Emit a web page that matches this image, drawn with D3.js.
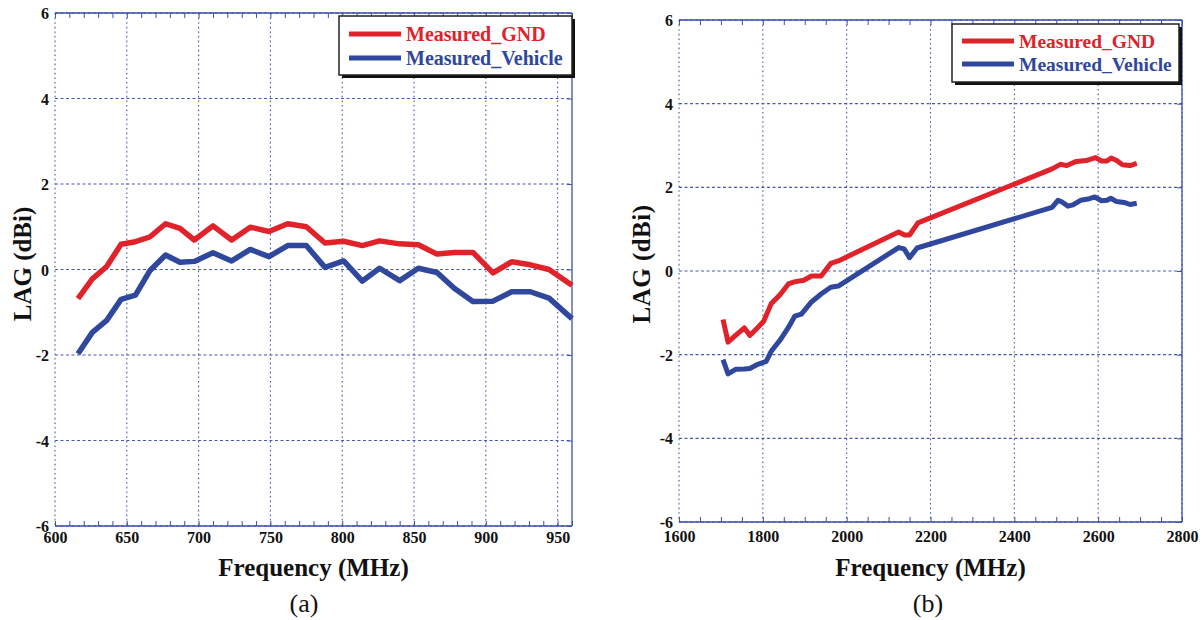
<!DOCTYPE html>
<html>
<head>
<meta charset="utf-8">
<script src="https://cdn.jsdelivr.net/npm/d3@7"></script>
<style>
  html, body { margin: 0; padding: 0; background: #fff; }
  svg text { font-family: "Liberation Serif", "Times New Roman", serif; }
</style>
</head>
<body>
<svg id="chart" width="1203" height="620"></svg>
<script>
// ---------- Data ----------
const seriesNames = ["Measured_GND", "Measured_Vehicle"];

// Panel (a)
const freqA = [616, 626, 636, 646, 656, 666, 677, 687, 697, 710, 723, 736, 749, 762, 775, 788, 801, 814, 826, 840, 853, 866, 878, 891, 905, 918, 931, 944, 960];
const gndA = [-0.68, -0.22, 0.07, 0.59, 0.65, 0.76, 1.07, 0.96, 0.69, 1.02, 0.69, 0.99, 0.89, 1.07, 1.00, 0.62, 0.66, 0.56, 0.67, 0.60, 0.58, 0.36, 0.40, 0.40, -0.08, 0.18, 0.11, 0.00, -0.37];
const vehA = [-1.97, -1.47, -1.19, -0.70, -0.60, -0.03, 0.34, 0.17, 0.19, 0.39, 0.20, 0.47, 0.30, 0.56, 0.56, 0.05, 0.20, -0.27, 0.03, -0.26, 0.03, -0.07, -0.44, -0.75, -0.74, -0.52, -0.52, -0.67, -1.15];

// Panel (b)
const freqGndB = [1705, 1717, 1735, 1756, 1769, 1788, 1802, 1820, 1841, 1861, 1875, 1898, 1916, 1939, 1962, 1980, 2124, 2138, 2150, 2170, 2490, 2510, 2525, 2548, 2571, 2594, 2608, 2621, 2631, 2644, 2658, 2676, 2692];
const gndB = [-1.16, -1.70, -1.54, -1.36, -1.54, -1.35, -1.20, -0.78, -0.57, -0.31, -0.26, -0.22, -0.12, -0.12, 0.18, 0.24, 0.93, 0.86, 0.86, 1.15, 2.44, 2.55, 2.52, 2.62, 2.64, 2.71, 2.63, 2.63, 2.70, 2.64, 2.54, 2.52, 2.57];
const freqVehB = [1705, 1717, 1735, 1756, 1769, 1788, 1808, 1820, 1842, 1861, 1876, 1892, 1916, 1939, 1962, 1980, 2124, 2137, 2150, 2168, 2490, 2504, 2512, 2528, 2540, 2558, 2576, 2592, 2608, 2621, 2630, 2644, 2662, 2676, 2692];
const vehB = [-2.12, -2.46, -2.35, -2.34, -2.33, -2.23, -2.16, -1.92, -1.64, -1.35, -1.08, -1.03, -0.74, -0.55, -0.39, -0.36, 0.56, 0.53, 0.32, 0.55, 1.52, 1.69, 1.66, 1.55, 1.58, 1.69, 1.72, 1.77, 1.68, 1.69, 1.74, 1.66, 1.64, 1.59, 1.62];

const yTicks = [-6, -4, -2, 0, 2, 4, 6];
const xTicksA = [600, 650, 700, 750, 800, 850, 900, 950];
const xTicksB = [1600, 1800, 2000, 2200, 2400, 2600, 2800];
const xMinorA = d3.range(600, 961, 10);
const xMinorB = d3.range(1600, 2801, 50);

const colors = ["#e0222b", "#2f479c"];
const gridColor = "#4658b0";
const axisColor = "#3d51a8";

const svg = d3.select("#chart");
const fmt = d => String(d);

function drawPanel(cfg) {
  const g = svg.append("g");
  const x = d3.scaleLinear().domain(cfg.xDomain).range([cfg.left, cfg.right]);
  const y = d3.scaleLinear().domain([-6, 6]).range([cfg.bottom, cfg.top]);

  // grid
  g.append("g").selectAll("line").data(cfg.xTicks).join("line")
    .attr("x1", d => x(d)).attr("x2", d => x(d))
    .attr("y1", cfg.top).attr("y2", cfg.bottom)
    .attr("stroke", gridColor).attr("stroke-width", 1.1)
    .attr("stroke-dasharray", "1.6,3");
  g.append("g").selectAll("line").data(yTicks).join("line")
    .attr("x1", cfg.left).attr("x2", cfg.right)
    .attr("y1", d => y(d)).attr("y2", d => y(d))
    .attr("stroke", gridColor).attr("stroke-width", 1.1)
    .attr("stroke-dasharray", "3,2.5");

  // axes box (top, right, bottom solid)
  const box = g.append("g").attr("stroke", axisColor).attr("stroke-width", 1.3).attr("fill", "none");
  box.append("line").attr("x1", cfg.left).attr("x2", cfg.right).attr("y1", cfg.top).attr("y2", cfg.top);
  box.append("line").attr("x1", cfg.left).attr("x2", cfg.right).attr("y1", cfg.bottom).attr("y2", cfg.bottom);
  box.append("line").attr("x1", cfg.right).attr("x2", cfg.right).attr("y1", cfg.top).attr("y2", cfg.bottom);

  // inward ticks
  const ba = g.append("g").attr("transform", `translate(0,${cfg.bottom})`)
    .call(d3.axisBottom(x).tickValues(cfg.xMinor).tickSize(-5).tickFormat(""));
  ba.select(".domain").remove();
  ba.selectAll("line").attr("stroke", axisColor);
  const ta = g.append("g").attr("transform", `translate(0,${cfg.top})`)
    .call(d3.axisTop(x).tickValues(cfg.xMinor).tickSize(-5).tickFormat(""));
  ta.select(".domain").remove();
  ta.selectAll("line").attr("stroke", axisColor);
  const ra = g.append("g").attr("transform", `translate(${cfg.right},0)`)
    .call(d3.axisRight(y).tickValues(yTicks).tickSize(-5).tickFormat(""));
  ra.select(".domain").remove();
  ra.selectAll("line").attr("stroke", axisColor);

  // tick labels
  const xlg = g.append("g").attr("transform", `translate(0,${cfg.bottom})`)
    .call(d3.axisBottom(x).tickValues(cfg.xTicks).tickSize(0).tickFormat(fmt));
  xlg.select(".domain").remove();
  xlg.selectAll("text").attr("y", cfg.xLabelY - cfg.bottom).attr("dy", 0)
    .attr("font-family", "Liberation Serif").attr("font-weight", "bold")
    .attr("font-size", 16).attr("fill", "#111");
  const ylg = g.append("g").attr("transform", `translate(${cfg.left},0)`)
    .call(d3.axisLeft(y).tickValues(yTicks).tickSize(0).tickFormat(fmt));
  ylg.select(".domain").remove();
  ylg.selectAll("text").attr("x", -6).attr("dy", "0.35em")
    .attr("font-family", "Liberation Serif").attr("font-weight", "bold")
    .attr("font-size", 16).attr("fill", "#111");

  // lines
  const line = d3.line().x(d => x(d[0])).y(d => y(d[1]));
  cfg.series.forEach((s, i) => {
    g.append("path").datum(d3.zip(s.f, s.v))
      .attr("d", line).attr("fill", "none")
      .attr("stroke", colors[i]).attr("stroke-width", cfg.lw)
      .attr("stroke-linejoin", "round").attr("stroke-linecap", "butt");
  });

  // titles
  g.append("text").attr("x", (cfg.left + cfg.right) / 2).attr("y", cfg.xTitleY)
    .attr("text-anchor", "middle").attr("font-weight", "bold").attr("font-size", 25)
    .attr("fill", "#111").text("Frequency (MHz)");
  g.append("text").attr("transform", `translate(${cfg.yTitleX},${cfg.yTitleY}) rotate(-90)`)
    .attr("text-anchor", "middle").attr("dy", "0.35em")
    .attr("font-weight", "bold").attr("font-size", 25)
    .attr("letter-spacing", cfg.ySpacing)
    .attr("fill", "#111").text("LAG (dBi)");
  g.append("text").attr("x", cfg.capX).attr("y", 612)
    .attr("text-anchor", "middle").attr("font-size", 26)
    .attr("fill", "#111").text(cfg.caption);

  // legend
  const L = cfg.legend;
  g.append("rect").attr("x", L.x + 3).attr("y", L.y + 3).attr("width", L.w).attr("height", L.h).attr("fill", "#111");
  g.append("rect").attr("x", L.x).attr("y", L.y).attr("width", L.w).attr("height", L.h)
    .attr("fill", "#fff").attr("stroke", "#222").attr("stroke-width", 1.5);
  seriesNames.forEach((name, i) => {
    const ly = L.y + L.row0 + i * L.dy;
    g.append("line").attr("x1", L.x + 10).attr("x2", L.x + 62)
      .attr("y1", ly).attr("y2", ly).attr("stroke", colors[i]).attr("stroke-width", 5);
    g.append("text").attr("x", L.x + 67).attr("y", ly + 7)
      .attr("font-weight", "bold").attr("font-size", L.fs)
      .attr("fill", colors[i]).text(name);
  });
}

drawPanel({
  left: 55, right: 572, top: 13, bottom: 526,
  xDomain: [600, 960], xTicks: xTicksA, xMinor: xMinorA,
  xLabelY: 543, xTitleY: 576, yTitleX: 22, yTitleY: 264, ySpacing: 0,
  capX: 304, caption: "(a)", lw: 5.5,
  legend: { x: 339, y: 16, w: 233, h: 59, row0: 18, dy: 24, fs: 20 },
  series: [{ f: freqA, v: gndA }, { f: freqA, v: vehA }]
});

drawPanel({
  left: 679, right: 1182, top: 20, bottom: 522,
  xDomain: [1600, 2800], xTicks: xTicksB, xMinor: xMinorB,
  xLabelY: 542, xTitleY: 576, yTitleX: 641, yTitleY: 264, ySpacing: 0.5,
  capX: 928, caption: "(b)", lw: 5,
  legend: { x: 952, y: 24, w: 227, h: 58, row0: 17, dy: 23, fs: 19.5 },
  series: [{ f: freqGndB, v: gndB }, { f: freqVehB, v: vehB }]
});
</script>
</body>
</html>
